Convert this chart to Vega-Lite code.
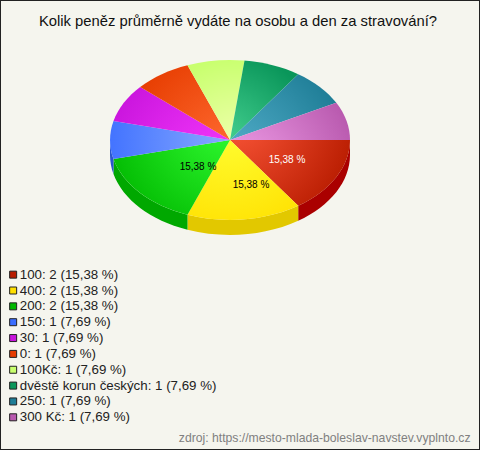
{
"$schema":"https://vega.github.io/schema/vega-lite/v6.json",
"width":480,"height":450,"autosize":"none","padding":0,
"background":"#f5f5ee",
"view":{"stroke":"#222222","strokeWidth":2},
"title":{"text":"Kolik peněz průměrně vydáte na osobu a den za stravování?","font":"Liberation Sans","fontSize":14.8,"fontWeight":"normal","color":"#111111","anchor":"middle","dx":-2,"baseline":"alphabetic","offset":-25,"dy":16},
"data":{"values":[
{"answer":"100","count":2,"pct":"15,38 %","legend":"100: 2 (15,38 %)"},
{"answer":"400","count":2,"pct":"15,38 %","legend":"400: 2 (15,38 %)"},
{"answer":"200","count":2,"pct":"15,38 %","legend":"200: 2 (15,38 %)"},
{"answer":"150","count":1,"pct":"7,69 %","legend":"150: 1 (7,69 %)"},
{"answer":"30","count":1,"pct":"7,69 %","legend":"30: 1 (7,69 %)"},
{"answer":"0","count":1,"pct":"7,69 %","legend":"0: 1 (7,69 %)"},
{"answer":"100Kč","count":1,"pct":"7,69 %","legend":"100Kč: 1 (7,69 %)"},
{"answer":"dvěstě korun českých","count":1,"pct":"7,69 %","legend":"dvěstě korun českých: 1 (7,69 %)"},
{"answer":"250","count":1,"pct":"7,69 %","legend":"250: 1 (7,69 %)"},
{"answer":"300 Kč","count":1,"pct":"7,69 %","legend":"300 Kč: 1 (7,69 %)"}
]},
"layer":[
{"transform":[{"filter":{"field":"answer","oneOf":["100","400","200","150"]}}],
 "mark":{"type":"point","filled":true,"size":4,"opacity":1},
 "encoding":{
  "shape":{"field":"answer","type":"nominal","legend":null,"scale":{"domain":["100","400","200","150"],"range":[
   "M110,-85A120,80 0 0 1 58.2,-19.2L58.2,-4.2A120,80 0 0 0 110,-70Z",
   "M58.2,-19.2A120,80 0 0 1 -52.5,-10.2L-52.5,4.8A120,80 0 0 0 58.2,-4.2Z",
   "M-52.5,-10.2A120,80 0 0 1 -126.5,-65.9L-126.5,-50.9A120,80 0 0 0 -52.5,4.8Z",
   "M-126.5,-65.9A120,80 0 0 1 -130,-85L-130,-70A120,80 0 0 0 -126.5,-50.9Z"]}},
  "fill":{"field":"answer","type":"nominal","legend":null,"scale":{"domain":["100","400","200","150"],"range":["#aa0000","#e2c800","#00a800","#2a55cc"]}}
 }},
{"encoding":{
  "shape":{"field":"answer","type":"nominal","legend":null,"scale":{"domain":["100","400","200","150","30","0","100Kč","dvěstě korun českých","250","300 Kč"],"range":[
   "M-10,-85L110,-85A120,80 0 0 1 58.2,-19.2Z",
   "M-10,-85L58.2,-19.2A120,80 0 0 1 -52.5,-10.2Z",
   "M-10,-85L-52.5,-10.2A120,80 0 0 1 -126.5,-65.9Z",
   "M-10,-85L-126.5,-65.9A120,80 0 0 1 -126.5,-104.1Z",
   "M-10,-85L-126.5,-104.1A120,80 0 0 1 -99.8,-138Z",
   "M-10,-85L-99.8,-138A120,80 0 0 1 -52.5,-159.8Z",
   "M-10,-85L-52.5,-159.8A120,80 0 0 1 4.5,-164.4Z",
   "M-10,-85L4.5,-164.4A120,80 0 0 1 58.2,-150.8Z",
   "M-10,-85L58.2,-150.8A120,80 0 0 1 96.3,-122.2Z",
   "M-10,-85L96.3,-122.2A120,80 0 0 1 110,-85Z"]}}},
 "layer":[
  {"transform":[{"filter":"datum.answer == '100'"}],"mark":{"type":"point","filled":true,"size":4,"opacity":1,"fill":{"gradient":"radial","x1":0,"y1":0,"r1":0,"x2":0,"y2":0,"r2":1.1,"stops":[{"offset":0,"color":"#ff5a3c"},{"offset":1,"color":"#b81c00"}]}}},
  {"transform":[{"filter":"datum.answer == '400'"}],"mark":{"type":"point","filled":true,"size":4,"opacity":1,"fill":{"gradient":"radial","x1":0.384,"y1":0,"r1":0,"x2":0.384,"y2":0,"r2":1.05,"stops":[{"offset":0,"color":"#ffff33"},{"offset":1,"color":"#ffe000"}]}}},
  {"transform":[{"filter":"datum.answer == '200'"}],"mark":{"type":"point","filled":true,"size":4,"opacity":1,"fill":{"gradient":"radial","x1":1,"y1":0,"r1":0,"x2":1,"y2":0,"r2":1.15,"stops":[{"offset":0,"color":"#33ff33"},{"offset":1,"color":"#00b800"}]}}},
  {"transform":[{"filter":"datum.answer == '150'"}],"mark":{"type":"point","filled":true,"size":4,"opacity":1,"fill":{"gradient":"radial","x1":1,"y1":0.5,"r1":0,"x2":1,"y2":0.5,"r2":1.1,"stops":[{"offset":0,"color":"#88aaff"},{"offset":1,"color":"#3c6eff"}]}}},
  {"transform":[{"filter":"datum.answer == '30'"}],"mark":{"type":"point","filled":true,"size":4,"opacity":1,"fill":{"gradient":"radial","x1":1,"y1":1,"r1":0,"x2":1,"y2":1,"r2":1.15,"stops":[{"offset":0,"color":"#f93cff"},{"offset":1,"color":"#c814dc"}]}}},
  {"transform":[{"filter":"datum.answer == '0'"}],"mark":{"type":"point","filled":true,"size":4,"opacity":1,"fill":{"gradient":"radial","x1":1,"y1":1,"r1":0,"x2":1,"y2":1,"r2":1.25,"stops":[{"offset":0,"color":"#ff6a30"},{"offset":1,"color":"#e63c00"}]}}},
  {"transform":[{"filter":"datum.answer == '100Kč'"}],"mark":{"type":"point","filled":true,"size":4,"opacity":1,"fill":{"gradient":"radial","x1":0.746,"y1":1,"r1":0,"x2":0.746,"y2":1,"r2":1.05,"stops":[{"offset":0,"color":"#eeffaa"},{"offset":1,"color":"#c8ff6e"}]}}},
  {"transform":[{"filter":"datum.answer == 'dvěstě korun českých'"}],"mark":{"type":"point","filled":true,"size":4,"opacity":1,"fill":{"gradient":"radial","x1":0,"y1":1,"r1":0,"x2":0,"y2":1,"r2":1.15,"stops":[{"offset":0,"color":"#44d090"},{"offset":1,"color":"#0a965a"}]}}},
  {"transform":[{"filter":"datum.answer == '250'"}],"mark":{"type":"point","filled":true,"size":4,"opacity":1,"fill":{"gradient":"radial","x1":0,"y1":1,"r1":0,"x2":0,"y2":1,"r2":1.15,"stops":[{"offset":0,"color":"#55b0cc"},{"offset":1,"color":"#1e7d96"}]}}},
  {"transform":[{"filter":"datum.answer == '300 Kč'"}],"mark":{"type":"point","filled":true,"size":4,"opacity":1,"fill":{"gradient":"radial","x1":0,"y1":1,"r1":0,"x2":0,"y2":1,"r2":1.1,"stops":[{"offset":0,"color":"#f8a8f0"},{"offset":1,"color":"#b95aaf"}]}}}
 ]},
{"transform":[{"filter":"datum.answer == '100'"}],"mark":{"type":"text","font":"Liberation Sans","fontSize":10,"align":"center","baseline":"middle","dx":47,"dy":-65,"fill":"#ffffff"},"encoding":{"text":{"field":"pct"}}},
{"transform":[{"filter":"datum.answer == '400'"}],"mark":{"type":"text","font":"Liberation Sans","fontSize":10,"align":"center","baseline":"middle","dx":11,"dy":-40,"fill":"#000000"},"encoding":{"text":{"field":"pct"}}},
{"transform":[{"filter":"datum.answer == '200'"}],"mark":{"type":"text","font":"Liberation Sans","fontSize":10,"align":"center","baseline":"middle","dx":-42,"dy":-58,"fill":"#000000"},"encoding":{"text":{"field":"pct"}}},
{"mark":{"type":"point","filled":true,"size":0,"opacity":1},
 "encoding":{
  "x":{"field":"answer","type":"nominal","axis":{"title":"zdroj: https://mesto-mlada-boleslav-navstev.vyplnto.cz","orient":"bottom","domain":false,"ticks":false,"labels":false,"grid":false,"titleFont":"Liberation Sans","titleFontSize":12.2,"titleFontWeight":"normal","titleColor":"#808080","titleAlign":"right","titleBaseline":"alphabetic","titleX":470,"titleY":-9}},
  "fill":{"field":"legend","type":"nominal","scale":{"domain":["100: 2 (15,38 %)","400: 2 (15,38 %)","200: 2 (15,38 %)","150: 1 (7,69 %)","30: 1 (7,69 %)","0: 1 (7,69 %)","100Kč: 1 (7,69 %)","dvěstě korun českých: 1 (7,69 %)","250: 1 (7,69 %)","300 Kč: 1 (7,69 %)"],"range":["#b81c00","#ffe000","#00b800","#3c6eff","#c814dc","#e63c00","#c8ff6e","#0a965a","#1e7d96","#b95aaf"]},
   "legend":{"title":null,"orient":"none","legendX":6.5,"legendY":268,"symbolType":"square","symbolSize":49,"symbolStrokeColor":"#222222","symbolStrokeWidth":1,"symbolOpacity":1,"labelFont":"Liberation Sans","labelFontSize":13.3,"labelColor":"#222222","labelOffset":0,"rowPadding":1.85,"padding":0,"labelLimit":300}}
 }}
],
"resolve":{"scale":{"fill":"independent","shape":"independent"}}
}
